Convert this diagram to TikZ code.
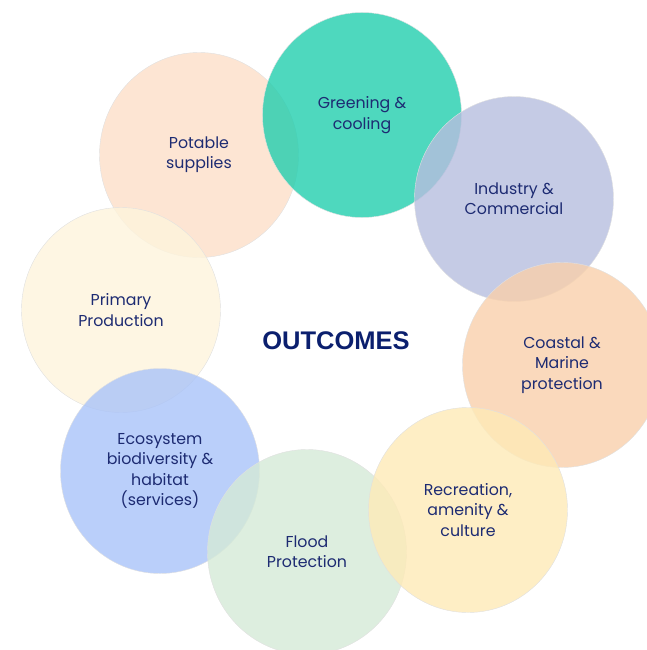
\documentclass[tikz,border=0pt]{standalone}
\usepackage{fontspec}
\setmainfont{Poppins}
\newfontfamily\headfont{Liberation Sans}
\usetikzlibrary{shapes.geometric}

\definecolor{navytext}{RGB}{29,43,114}
\definecolor{navyhead}{RGB}{11,31,110}
\definecolor{potable}{RGB}{253,223,200}
\definecolor{greening}{RGB}{34,206,174}
\definecolor{industry}{RGB}{183,190,223}
\definecolor{coastal}{RGB}{249,208,171}
\definecolor{primary}{RGB}{254,244,220}
\definecolor{ecosystem}{RGB}{169,195,249}
\definecolor{flood}{RGB}{213,234,215}
\definecolor{recreation}{RGB}{254,234,183}

\begin{document}
\begin{tikzpicture}[x=1pt,y=-1pt,
	blob/.style={ellipse,minimum width=199pt,minimum height=205pt,inner sep=0pt,
		fill opacity=.8,text opacity=1,draw=black!12,line width=.4pt,
		align=center,text=navytext,font=\fontsize{15.8}{20.4}\selectfont}]
	\useasboundingbox (0,0) rectangle (646,650);
	% ring of outcomes, later ones lie on top
	\node[blob,fill=potable] (potable) at (199,155){Potable\\supplies};
	\node[blob,fill=greening] (greening) at (362,115){Greening \&\\cooling};
	\node[blob,fill=industry] (industry) at (514,199){Industry \&\\Commercial};
	\node[blob,fill=coastal] (coastal) at (562,365){Coastal \&\\Marine\\protection};
	\node[blob,fill=primary] (primary) at (121,310){Primary\\Production};
	\node[blob,fill=ecosystem] (ecosystem) at (160,471){Ecosystem\\biodiversity \&\\habitat\\(services)};
	\node[blob,fill=flood] (flood) at (307,552){Flood\\Protection};
	\node[blob,fill=recreation] (recreation) at (468,510){Recreation,\\amenity \&\\culture};
	% title in the middle
	\node[font=\headfont\bfseries\fontsize{25.5}{28}\selectfont,text=navyhead] (outcomes) at (336,341){OUTCOMES};
\end{tikzpicture}
\end{document}
